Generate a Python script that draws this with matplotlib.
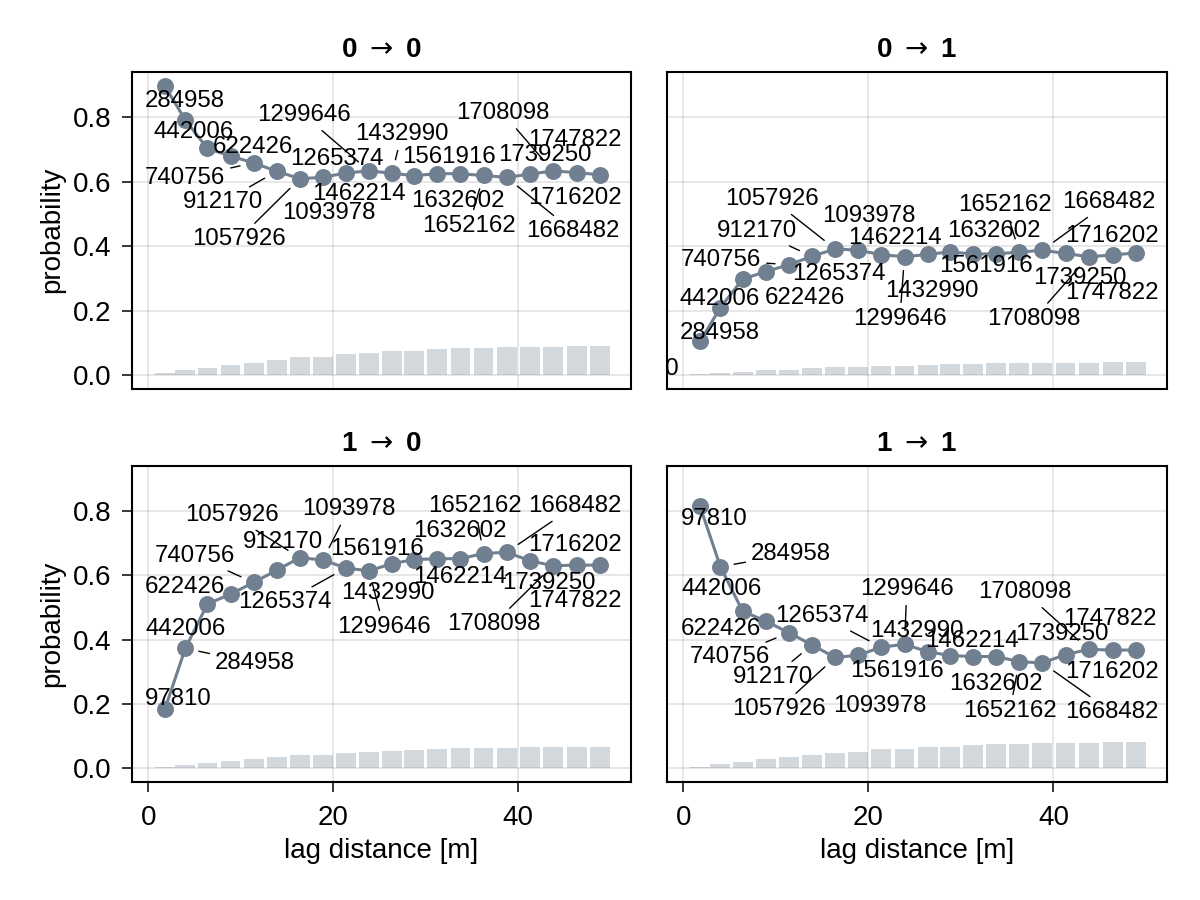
import numpy as np
import matplotlib.pyplot as plt

plt.rcParams['font.family'] = ['Liberation Sans', 'DejaVu Sans']

# mean lag distance of each bin [m]
lags = [1.8, 4.0, 6.4, 8.9, 11.4, 13.9, 16.4, 18.9, 21.4, 23.9,
        26.4, 28.8, 31.3, 33.8, 36.3, 38.8, 41.3, 43.8, 46.4, 48.9]

# number of point pairs per lag bin
counts = [97810, 284958, 442006, 622426, 740756, 912170, 1057926, 1093978,
          1265374, 1299646, 1432990, 1462214, 1561916, 1632602, 1652162,
          1668482, 1716202, 1708098, 1739250, 1747822]

# transition probabilities
p00 = [0.896, 0.791, 0.703, 0.679, 0.658, 0.632, 0.609, 0.613, 0.627, 0.633,
       0.626, 0.618, 0.625, 0.624, 0.619, 0.613, 0.623, 0.633, 0.628, 0.621]
p01 = [0.104, 0.209, 0.297, 0.321, 0.342, 0.368, 0.391, 0.387, 0.373, 0.367,
       0.374, 0.382, 0.375, 0.376, 0.381, 0.387, 0.377, 0.367, 0.372, 0.379]
p10 = [0.185, 0.373, 0.511, 0.542, 0.578, 0.616, 0.655, 0.648, 0.623, 0.614,
       0.637, 0.649, 0.652, 0.652, 0.668, 0.672, 0.646, 0.630, 0.632, 0.632]
p11 = [0.815, 0.627, 0.489, 0.458, 0.422, 0.384, 0.345, 0.352, 0.377, 0.386,
       0.363, 0.351, 0.348, 0.348, 0.332, 0.328, 0.354, 0.370, 0.368, 0.368]

# (from, to) category of each panel
transitions = [(0, 0), (0, 1), (1, 0), (1, 1)]
probs = [p00, p01, p10, p11]

# ---- layout (figure pixels, measured from the top-left) ----
W, H = 1200, 900
boxes = [(132, 72, 631, 388.5), (667, 72, 1167, 388.5),
         (132, 466, 631, 782), (667, 466, 1167, 782)]

# where each count label sits: (left, baseline)
label_xy = [
    [(30, 80), (145, 107), (154, 138), (213, 153), (145, 184), (183, 208),
     (192, 245), (282, 219), (290, 165), (257, 121), (355, 140), (312, 200),
     (402, 163), (411, 207), (422, 232), (526, 237), (528, 204), (456, 119),
     (498, 161), (528, 146)],
    [(613, 375), (680, 339), (680, 305), (765, 304), (681, 266), (717, 237),
     (725, 205), (822, 222), (792, 280), (853, 325), (885, 297), (848, 244),
     (939, 272), (947, 237), (958, 211), (1062, 208), (1065, 242), (987, 325),
     (1033, 284), (1065, 299)],
    [(145, 705), (215, 669), (145, 635), (145, 593), (155, 562), (243, 548),
     (185, 521), (302, 515), (238, 608), (337, 633), (341, 599), (413, 583),
     (330, 555), (413, 537), (428, 512), (528, 512), (528, 551), (447, 630),
     (502, 589), (528, 607)],
    [(681, 525), (751, 560), (681, 595), (681, 635), (690, 663), (733, 683),
     (732, 715), (833, 712), (775, 622), (860, 595), (870, 637), (925, 647),
     (850, 677), (949, 690), (963, 717), (1065, 718), (1065, 678), (978, 598),
     (1015, 640), (1063, 625)],
]
# labels that get a leader line back to their point
leaders = [
    {4, 5, 6, 9, 10, 14, 15, 17},
    {4, 5, 6, 9, 14, 15, 17},
    {1, 4, 6, 7, 8, 9, 14, 15, 17},
    {1, 4, 5, 6, 8, 9, 14, 15, 17},
]

color = "slategray"
fig = plt.figure(figsize=(12, 9), dpi=100)

for k in range(4):
    x0, y0, x1, y1 = boxes[k]
    ax = fig.add_axes([x0 / W, 1 - y1 / H, (x1 - x0) / W, (y1 - y0) / H])
    p = np.array(probs[k])

    freq = np.array(counts) / max(counts) * 0.1 * p.max()
    ax.bar(lags, freq, width=2.15, color=color, alpha=0.3, linewidth=0)
    ax.plot(lags, p, '-o', color=color, lw=2.2, ms=12.2, mew=0, zorder=3)

    for i, c in enumerate(counts):
        lx, ly = label_xy[k][i]
        arrow = None
        if i in leaders[k]:
            arrow = dict(arrowstyle='-', color='black', lw=1.0,
                         shrinkA=2, shrinkB=10)
        ann = ax.annotate(str(c), xy=(lags[i], p[i]), xytext=(lx, H - ly),
                          textcoords='figure pixels', ha='left', va='baseline',
                          fontsize=17.3, clip_on=True, arrowprops=arrow,
                          zorder=4)
        if ann.arrow_patch is not None:
            ann.arrow_patch.set_clip_path(ax.patch)

    ax.set_xlim(-1.77, 52.27)
    ax.set_ylim(-0.042, 0.94)
    ax.set_xticks([0, 20, 40])
    ax.set_yticks([0.0, 0.2, 0.4, 0.6, 0.8])
    ax.grid(True, color='black', alpha=0.12, lw=1.1)
    ax.set_axisbelow(True)
    for s in ax.spines.values():
        s.set_linewidth(1.5)
    ax.tick_params(direction='out', length=7.2, width=1.1, labelsize=20)
    ax.tick_params(axis='x', pad=9.5)
    ax.tick_params(axis='y', pad=7.5)

    a, b = transitions[k]
    ax.set_title(f"{a} $\\rightarrow$ {b}", fontsize=20, fontweight='bold',
                 pad=10.8)

    if k < 2:
        ax.tick_params(axis='x', bottom=False, labelbottom=False)
    else:
        ax.set_xlabel("lag distance [m]", fontsize=20, va='baseline')
        ax.xaxis.set_label_coords(0.5, (y1 - 858) / (y1 - y0))
    if k % 2 == 1:
        ax.tick_params(axis='y', left=False, labelleft=False)
    else:
        ax.set_ylabel("probability", fontsize=20, va='center', ha='center')
        ax.yaxis.set_label_coords((52 - x0) / (x1 - x0), 0.5)

fig.savefig("out.png", dpi=100)
